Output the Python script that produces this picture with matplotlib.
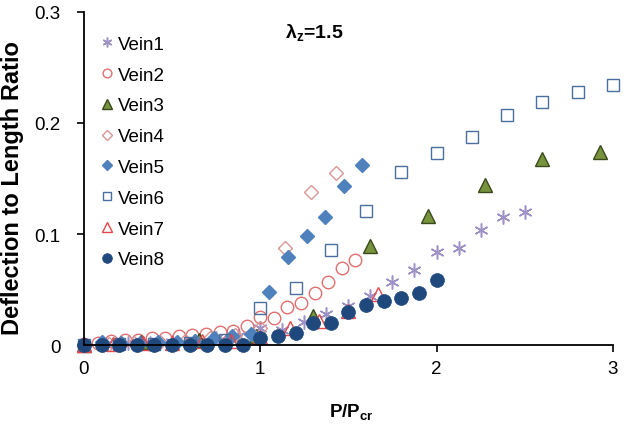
import matplotlib
matplotlib.use('Agg')
import matplotlib.pyplot as plt

plt.rcParams['font.family'] = ['Liberation Sans', 'DejaVu Sans']
plt.rcParams['mathtext.fontset'] = 'custom'
plt.rcParams['mathtext.rm'] = 'Liberation Sans'
plt.rcParams['mathtext.bf'] = 'Liberation Sans:bold'

# data (P/Pcr vs deflection/length)
vein1_x = [0, 0.125, 0.25, 0.375, 0.5, 0.625, 0.75, 0.875, 1.0, 1.125, 1.25, 1.375,
           1.5, 1.625, 1.75, 1.875, 2.0, 2.125, 2.25, 2.375, 2.5]
vein1_y = [0, 0.001, 0.002, 0.002, 0.003, 0.004, 0.006, 0.008, 0.015, 0.014, 0.021, 0.028,
           0.035, 0.044, 0.057, 0.068, 0.084, 0.087, 0.104, 0.115, 0.120]

vein2_x = [0, 0.077, 0.154, 0.231, 0.308, 0.385, 0.462, 0.538, 0.615, 0.692, 0.769,
           0.846, 0.923, 1.0, 1.077, 1.154, 1.231, 1.308, 1.385, 1.462, 1.538]
vein2_y = [0.001, 0.002, 0.004, 0.005, 0.005, 0.006, 0.006, 0.008, 0.009, 0.010, 0.012,
           0.013, 0.017, 0.025, 0.024, 0.034, 0.038, 0.047, 0.057, 0.069, 0.077]

vein3_x = [0, 0.325, 0.65, 0.975, 1.3, 1.625, 1.95, 2.275, 2.6, 2.925]
vein3_y = [0, 0.003, 0.005, 0.008, 0.026, 0.089, 0.116, 0.144, 0.168, 0.174]

vein4_x = [0, 0.143, 0.286, 0.429, 0.571, 0.714, 0.857, 1.0, 1.143, 1.286, 1.429]
vein4_y = [0, 0.001, 0.002, 0.003, 0.004, 0.006, 0.009, 0.015, 0.087, 0.138, 0.155]

vein5_x = [0, 0.105, 0.21, 0.315, 0.42, 0.525, 0.63, 0.735, 0.84, 0.945, 1.05,
           1.157, 1.263, 1.37, 1.475, 1.58]
vein5_y = [0, 0.003, 0.002, 0.002, 0.003, 0.003, 0.004, 0.006, 0.008, 0.010, 0.048,
           0.079, 0.098, 0.115, 0.143, 0.162]

vein6_x = [0, 0.2, 0.4, 0.6, 0.8, 1.0, 1.2, 1.4, 1.6, 1.8, 2.0, 2.2, 2.4, 2.6, 2.8, 3.0]
vein6_y = [0, 0.001, 0.001, 0.002, 0.005, 0.033, 0.051, 0.086, 0.121, 0.156, 0.173,
           0.187, 0.207, 0.219, 0.228, 0.234]

vein7_x = [0, 0.167, 0.333, 0.5, 0.667, 0.833, 1.0, 1.167, 1.333, 1.5, 1.667]
vein7_y = [0, 0.001, 0.002, 0.002, 0.004, 0.004, 0.007, 0.015, 0.022, 0.031, 0.046]

vein8_x = [0, 0.1, 0.2, 0.3, 0.4, 0.5, 0.6, 0.7, 0.8, 0.9, 1.0, 1.1, 1.2, 1.3, 1.4,
           1.5, 1.6, 1.7, 1.8, 1.9, 2.0]
vein8_y = [0, 0, 0, 0, 0, 0, 0, 0, 0, 0, 0.006, 0.008, 0.011, 0.020, 0.020,
           0.030, 0.036, 0.040, 0.042, 0.047, 0.059]

fig = plt.figure(figsize=(6.24, 4.31), dpi=100)
ax = fig.add_axes([0.1346, 0.197, 0.8474, 0.773])

ax.plot(vein1_x, vein1_y, ls='none', marker=(6, 2, 0), ms=10, mec='#9d91c6', mew=1.1,
        label='Vein1', clip_on=False)
ax.plot(vein2_x, vein2_y, ls='none', marker='o', ms=9, mfc='none', mec='#e07070', mew=1.0,
        label='Vein2', clip_on=False)
ax.plot(vein3_x, vein3_y, ls='none', marker='^', ms=10, mfc='#77933c', mec='#3a4a1c', mew=1.0,
        label='Vein3', clip_on=False)
ax.plot(vein4_x, vein4_y, ls='none', marker='D', ms=7.5, mfc='none', mec='#d99694', mew=1.0,
        label='Vein4', clip_on=False)
ax.plot(vein5_x, vein5_y, ls='none', marker='D', ms=7.5, mfc='#4f81bd', mec='#4f81bd', mew=1.0,
        label='Vein5', clip_on=False)
ax.plot(vein6_x, vein6_y, ls='none', marker='s', ms=8.5, mfc='none', mec='#4a6f9e', mew=1.0,
        label='Vein6', clip_on=False)
ax.plot(vein7_x, vein7_y, ls='none', marker='^', ms=10, mfc='none', mec='#e8474b', mew=1.0,
        label='Vein7', clip_on=False)
ax.plot(vein8_x, vein8_y, ls='none', marker='o', ms=10, mfc='#1f497d', mec='#1f497d', mew=0.5,
        label='Vein8', clip_on=False)

ax.set_xlim(0, 3)
ax.set_ylim(0, 0.3)
ax.set_xticks([0, 1, 2, 3])
ax.set_xticklabels(['0', '1', '2', '3'])
ax.set_yticks([0, 0.1, 0.2, 0.3])
ax.set_yticklabels(['0', '0.1', '0.2', '0.3'])
ax.tick_params(direction='out', length=5, width=1.2, labelsize=13.5, colors='black', pad=6)
ax.tick_params(axis='y', pad=12)
for s in ['top', 'right']:
    ax.spines[s].set_visible(False)
for s in ['left', 'bottom']:
    ax.spines[s].set_linewidth(1.3)

ax.set_xlabel('P/P$_{\\mathbf{cr}}$', fontsize=13.5, fontweight='bold')
ax.xaxis.set_label_coords(0.505, -0.171)
ax.set_ylabel('Deflection to Length Ratio', fontsize=17, fontweight='bold')
ax.yaxis.set_label_coords(-0.113, 0.474)

ax.text(1.14, 0.282, 'λ$_{\\mathbf{z}}$=1.5', fontsize=14, fontweight='bold',
        ha='left', va='center')

ax.legend(loc='upper left', bbox_to_anchor=(0.0276, 0.929), frameon=False, fontsize=13.5,
          handlelength=0.9, handletextpad=0.15, labelspacing=0.73, markerscale=0.7,
          borderaxespad=0, borderpad=0)

fig.savefig('out.png', dpi=100)
